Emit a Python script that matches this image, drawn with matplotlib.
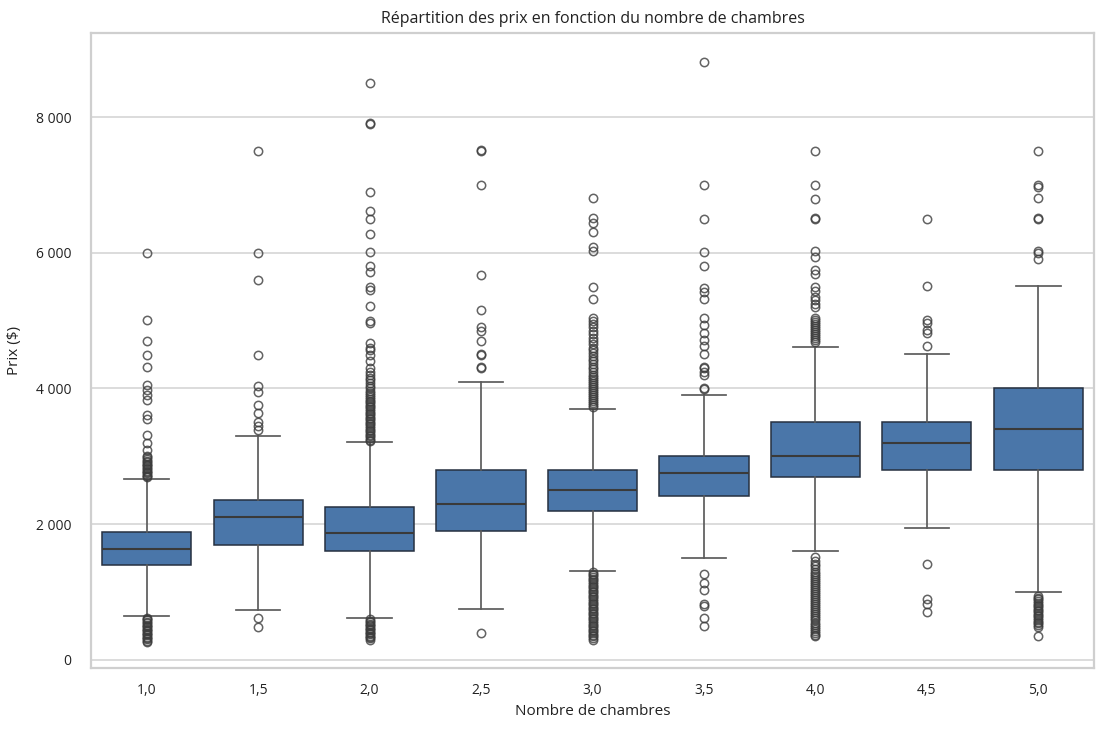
import matplotlib
matplotlib.use('Agg')
import matplotlib.pyplot as plt
from matplotlib.ticker import FuncFormatter

plt.rcParams['font.family'] = ['Open Sans', 'DejaVu Sans']

# Data
categories = ['1,0', '1,5', '2,0', '2,5', '3,0', '3,5', '4,0', '4,5', '5,0']
q1 = [1400, 1700, 1600, 1900, 2200, 2410, 2700, 2800, 2800]
medians = [1640, 2100, 1870, 2300, 2500, 2760, 3000, 3190, 3400]
q3 = [1890, 2350, 2250, 2800, 2800, 3000, 3500, 3500, 4000]
whisker_low = [640, 740, 620, 745, 1310, 1505, 1600, 1950, 1000]
whisker_high = [2660, 3300, 3210, 4100, 3700, 3900, 4610, 4505, 5510]

fliers_10 = [260, 280, 300, 320, 340, 360, 380, 400, 420, 440, 460, 480,
             500, 520, 540, 560, 580, 600, 620,
             2690, 2710, 2730, 2750, 2770, 2790, 2810, 2830, 2850, 2870,
             2890, 2910, 2930, 2960, 2990, 3010,
             3090, 3200, 3320, 3550, 3610, 3830, 3910, 3980, 4050, 4310,
             4500, 4700, 5010, 6000]
fliers_15 = [490, 610, 3390, 3440, 3510, 3640, 3760, 3950, 4030, 4500,
             5600, 6000, 7500]
fliers_20 = [295, 315, 335, 355, 375, 395, 415, 435, 455, 475, 495, 515,
             535, 555, 575, 595,
             3220, 3245, 3270, 3295, 3320, 3345, 3370, 3395, 3420, 3445,
             3470, 3495, 3520, 3545, 3570, 3595, 3620, 3645, 3670, 3695,
             3720, 3745, 3770, 3795, 3820, 3850, 3880, 3910, 3940, 3970,
             4000, 4040, 4080, 4120, 4160, 4200, 4250, 4300, 4400, 4500,
             4560, 4590, 4670, 4960, 4990, 5210, 5450, 5500, 5710, 5800,
             6010, 6270, 6500, 6610, 6900, 7900, 7920, 8510]
fliers_25 = [390, 4300, 4320, 4500, 4510, 4700, 4850, 4900, 5160, 5670,
             7000, 7500, 7510]
fliers_30 = [295, 320, 345, 370, 395, 420, 445, 470, 495, 520, 545, 570,
             595, 620, 645, 670, 695, 720, 745, 770, 795, 820, 845, 870,
             895, 920, 945, 970, 995, 1020, 1045, 1070, 1095, 1120, 1145,
             1170, 1195, 1220, 1245, 1270, 1295,
             3720, 3750, 3780, 3810, 3840, 3870, 3900, 3930, 3960, 3990,
             4020, 4050, 4080, 4110, 4140, 4170, 4200, 4240, 4280, 4320,
             4360, 4400, 4440, 4480, 4520, 4560, 4600, 4650, 4700, 4750,
             4800, 4850, 4900, 4950, 5000, 5040,
             5320, 5500, 6020, 6090, 6310, 6440, 6510, 6810]
fliers_35 = [500, 615, 790, 825, 1030, 1130, 1270,
             3990, 4000, 4200, 4250, 4300, 4320, 4510, 4620, 4720, 4820,
             4940, 5040, 5320, 5420, 5480, 5800, 6010, 6500, 7000, 8810]
fliers_40 = [345, 370, 400, 430, 460, 490, 520, 550, 580, 610, 640, 670,
             700, 730, 760, 790, 820, 850, 880, 910, 940, 970, 1000, 1030,
             1060, 1090, 1120, 1150, 1180, 1210, 1240, 1270, 1300, 1340,
             1380, 1420, 1460, 1520,
             4680, 4710, 4740, 4770, 4800, 4830, 4860, 4890, 4920, 4950,
             4980, 5010, 5040, 5200, 5250, 5300, 5350, 5430, 5500, 5690,
             5740, 5940, 6030, 6500, 6510, 6800, 7000, 7500]
fliers_45 = [700, 830, 900, 1410, 4620, 4820, 4860, 4970, 5010, 5510, 6500]
fliers_50 = [345, 490, 515, 540, 565, 590, 615, 640, 665, 690, 715, 740,
             765, 790, 815, 840, 865, 890, 915, 935,
             5910, 5990, 6030, 6500, 6510, 6810, 6970, 7000, 7500]
fliers = [fliers_10, fliers_15, fliers_20, fliers_25, fliers_30,
          fliers_35, fliers_40, fliers_45, fliers_50]

BOX_BLUE = '#4a76a9'
LINE = '#5c5c5c'
GRID = '#dcdcdc'

fig = plt.figure(figsize=(11.07, 7.33), dpi=100)
fig.patch.set_facecolor('white')
ax = fig.add_axes([0.0822, 0.0887, 0.9061, 0.8663])

stats = []
for i in range(len(categories)):
    stats.append(dict(q1=q1[i], med=medians[i], q3=q3[i],
                      whislo=whisker_low[i], whishi=whisker_high[i],
                      fliers=fliers[i], label=categories[i]))

ax.bxp(stats, positions=range(len(categories)), widths=0.8,
       capwidths=0.4, patch_artist=True, showfliers=True,
       boxprops=dict(facecolor=BOX_BLUE, edgecolor='#263040', linewidth=1.1),
       medianprops=dict(color='#3a3a3a', linewidth=1.5),
       whiskerprops=dict(color=LINE, linewidth=1.25),
       capprops=dict(color=LINE, linewidth=1.25),
       flierprops=dict(marker='o', markerfacecolor='none',
                       markeredgecolor='#3c3c3c', markeredgewidth=1.1,
                       markersize=6, alpha=0.8))

ax.set_xlim(-0.5, len(categories) - 0.5)
ax.set_ylim(-120, 9240)
ax.set_yticks([0, 2000, 4000, 6000, 8000])
ax.yaxis.set_major_formatter(FuncFormatter(lambda v, p: f'{int(v):,}'.replace(',', ' ')))
ax.set_xticks(range(len(categories)))
ax.set_xticklabels(categories)

ax.grid(axis='y', color=GRID, linewidth=1.4)
ax.set_axisbelow(True)
for s in ax.spines.values():
    s.set_color('#cfcfcf')
    s.set_linewidth(1.6)

ax.tick_params(axis='both', length=0, labelsize=10, colors='#222222')
ax.tick_params(axis='y', pad=14)
ax.tick_params(axis='x', pad=11)

ax.set_title('Répartition des prix en fonction du nombre de chambres',
             fontsize=11.5, color='#222222', pad=7)
ax.set_xlabel('Nombre de chambres', fontsize=11, color='#222222', labelpad=4)
ax.set_ylabel('Prix ($)', fontsize=11, color='#222222', labelpad=10)

fig.savefig('out.png', dpi=100, facecolor='white')
